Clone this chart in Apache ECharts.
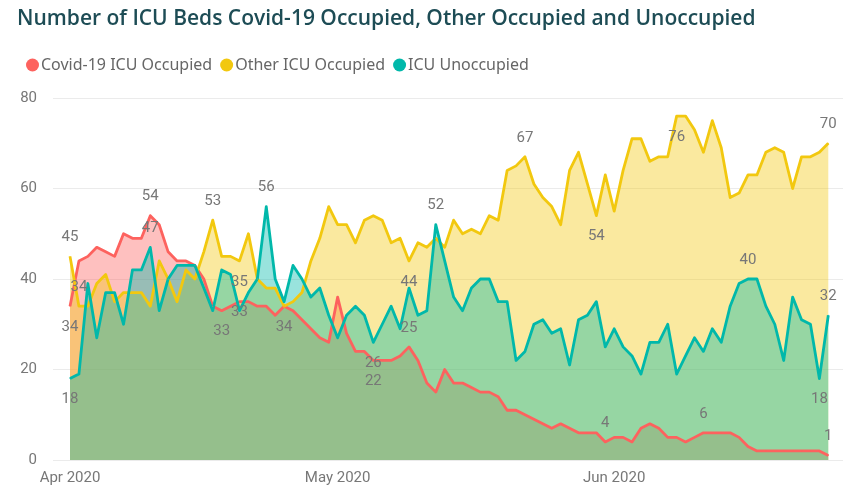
<!DOCTYPE html>
<html>
<head>
<meta charset="utf-8">
<script src="https://cdn.jsdelivr.net/npm/echarts@6/dist/echarts.min.js"></script>
<style>
  html, body { margin: 0; padding: 0; background: #ffffff; }
  #chart { width: 843px; height: 496px; }
</style>
</head>
<body>
<div id="chart"></div>
<script>
// Daily ICU bed counts, 1 Apr – 25 Jun 2020
const dates = [
  '2020-04-01','2020-04-02','2020-04-03','2020-04-04','2020-04-05','2020-04-06','2020-04-07','2020-04-08','2020-04-09','2020-04-10',
  '2020-04-11','2020-04-12','2020-04-13','2020-04-14','2020-04-15','2020-04-16','2020-04-17','2020-04-18','2020-04-19','2020-04-20',
  '2020-04-21','2020-04-22','2020-04-23','2020-04-24','2020-04-25','2020-04-26','2020-04-27','2020-04-28','2020-04-29','2020-04-30',
  '2020-05-01','2020-05-02','2020-05-03','2020-05-04','2020-05-05','2020-05-06','2020-05-07','2020-05-08','2020-05-09','2020-05-10',
  '2020-05-11','2020-05-12','2020-05-13','2020-05-14','2020-05-15','2020-05-16','2020-05-17','2020-05-18','2020-05-19','2020-05-20',
  '2020-05-21','2020-05-22','2020-05-23','2020-05-24','2020-05-25','2020-05-26','2020-05-27','2020-05-28','2020-05-29','2020-05-30',
  '2020-05-31','2020-06-01','2020-06-02','2020-06-03','2020-06-04','2020-06-05','2020-06-06','2020-06-07','2020-06-08','2020-06-09',
  '2020-06-10','2020-06-11','2020-06-12','2020-06-13','2020-06-14','2020-06-15','2020-06-16','2020-06-17','2020-06-18','2020-06-19',
  '2020-06-20','2020-06-21','2020-06-22','2020-06-23','2020-06-24','2020-06-25'
];

const covidOccupied = [
  34,44,45,47,46,45,50,49,49,54, 52,46,44,44,43,40,34,33,34,35,
  35,34,34,32,34,33,31,29,27,26, 36,28,24,24,22,22,22,23,25,22,
  17,15,20,17,17,16,15,15,14,11, 11,10,9,8,7,8,7,6,6,6,
  4,5,5,4,7,8,7,5,5,4, 5,6,6,6,6,5,3,2,2,2,
  2,2,2,2,2,1
];

const otherOccupied = [
  45,34,34,39,41,35,37,37,37,34, 44,40,35,42,40,46,53,45,45,44,
  50,40,38,38,34,35,37,44,49,56, 52,52,48,53,54,53,48,49,44,48,
  47,49,47,53,50,51,50,54,53,64, 65,67,61,58,56,52,64,68,61,54,
  63,55,64,71,71,66,67,67,76,76, 73,68,75,69,58,59,63,63,68,69,
  68,60,67,67,68,70
];

const unoccupied = [
  18,19,39,27,37,37,30,42,42,47, 33,40,43,43,43,38,33,42,41,33,
  37,40,56,40,35,43,40,36,38,32, 27,32,34,32,26,30,34,29,38,32,
  33,52,44,36,33,38,40,40,35,35, 22,24,30,31,28,29,21,31,32,35,
  25,29,25,23,19,26,26,30,19,23, 27,24,29,26,34,39,40,40,34,30,
  22,36,31,30,18,32
];

const monthTicks = ['2020-04-01', '2020-05-01', '2020-06-01'];
const monthLabels = ['Apr 2020', 'May 2020', 'Jun 2020'];
const yTicks = [0, 20, 40, 60, 80];

// Points that carry a value label: [day index, label side, optional gap]
const covidLabels = [[0,'bottom'],[9,'top'],[17,'bottom'],[19,'top'],[24,'bottom'],[34,'bottom'],[38,'top'],[60,'top'],[71,'top'],[85,'top']];
const otherLabels = [[0,'top'],[1,'top'],[16,'top'],[38,'bottom'],[51,'top'],[59,'bottom'],[68,'bottom'],[85,'top']];
const unoccLabels = [[0,'bottom'],[9,'top'],[19,'bottom',-6],[22,'top'],[34,'bottom'],[41,'top'],[76,'top'],[84,'bottom'],[85,'top']];

const seriesNames = ['Covid-19 ICU Occupied', 'Other ICU Occupied', 'ICU Unoccupied'];
const seriesColors = ['#FD625E', '#F2C80F', '#01B8AA'];

// Dates are placed on a numeric axis measured in days since the first date
const DAY = 86400000;
function toTime(s) {
  const p = s.split('-').map(Number);
  return Date.UTC(p[0], p[1] - 1, p[2]);
}
const t0 = toTime(dates[0]);
const dayOf = (s) => Math.round((toTime(s) - t0) / DAY);
const days = dates.map(dayOf);
const tickDays = monthTicks.map(dayOf);

const labelFont = { fontFamily: 'Roboto, "Noto Sans", sans-serif', fontSize: 15, color: '#777777' };

function areaSeries(i, values) {
  return {
    name: seriesNames[i],
    type: 'line',
    z: 1,
    silent: true,
    symbol: 'none',
    color: seriesColors[i],
    lineStyle: { width: 0 },
    areaStyle: { color: seriesColors[i], opacity: 0.4 },
    data: values.map((v, k) => [days[k], v])
  };
}

function lineSeries(i, values, labels) {
  const marks = {};
  labels.forEach(([k, side, gap]) => { marks[k] = { side, gap }; });
  return {
    name: seriesNames[i],
    type: 'line',
    z: 3,
    symbol: 'circle',
    symbolSize: 1,
    showSymbol: true,
    color: seriesColors[i],
    lineStyle: { width: 2.8, color: seriesColors[i], join: 'round' },
    itemStyle: { color: seriesColors[i] },
    data: values.map((v, k) => {
      const item = { value: [days[k], v] };
      const m = marks[k];
      if (m) {
        item.label = {
          show: true,
          position: m.side,
          distance: m.gap !== undefined ? m.gap : (m.side === 'top' ? 11 : 13),
          formatter: String(v),
          ...labelFont
        };
      }
      return item;
    })
  };
}

const chart = echarts.init(document.getElementById('chart'), null, { renderer: 'canvas' });

chart.setOption({
  animation: false,
  backgroundColor: '#ffffff',
  title: {
    text: 'Number of ICU Beds Covid-19 Occupied, Other Occupied and Unoccupied',
    left: 12,
    top: 4,
    textStyle: {
      fontFamily: '"Open Sans", "Noto Sans", sans-serif',
      fontWeight: 600,
      fontSize: 21,
      color: '#1d4c55'
    }
  },
  legend: {
    data: seriesNames,
    left: 21,
    top: 52,
    icon: 'circle',
    itemWidth: 13,
    itemHeight: 13,
    itemGap: 8,
    textStyle: {
      fontFamily: '"Noto Sans", sans-serif',
      fontSize: 16,
      color: '#666666',
      padding: [0, 0, 0, -3]
    }
  },
  grid: { left: 53, right: 0, top: 98, bottom: 36 },
  xAxis: {
    type: 'value',
    min: days[0] - 1.906,
    max: days[days.length - 1] + 1.648,
    axisLine: { show: false },
    axisTick: { show: false },
    splitLine: { show: false },
    axisLabel: {
      customValues: tickDays,
      formatter: function (value) {
        const idx = tickDays.indexOf(Math.round(value));
        return idx >= 0 ? monthLabels[idx] : '';
      },
      margin: 11,
      ...labelFont
    }
  },
  yAxis: {
    type: 'value',
    min: yTicks[0],
    max: yTicks[yTicks.length - 1],
    interval: 20,
    axisLine: { show: false },
    axisTick: { show: false },
    splitLine: { lineStyle: { color: '#ebebeb', width: 1 } },
    axisLabel: { margin: 16, ...labelFont }
  },
  series: [
    areaSeries(0, covidOccupied),
    areaSeries(1, otherOccupied),
    areaSeries(2, unoccupied),
    lineSeries(0, covidOccupied, covidLabels),
    lineSeries(1, otherOccupied, otherLabels),
    lineSeries(2, unoccupied, unoccLabels)
  ]
});
</script>
</body>
</html>
